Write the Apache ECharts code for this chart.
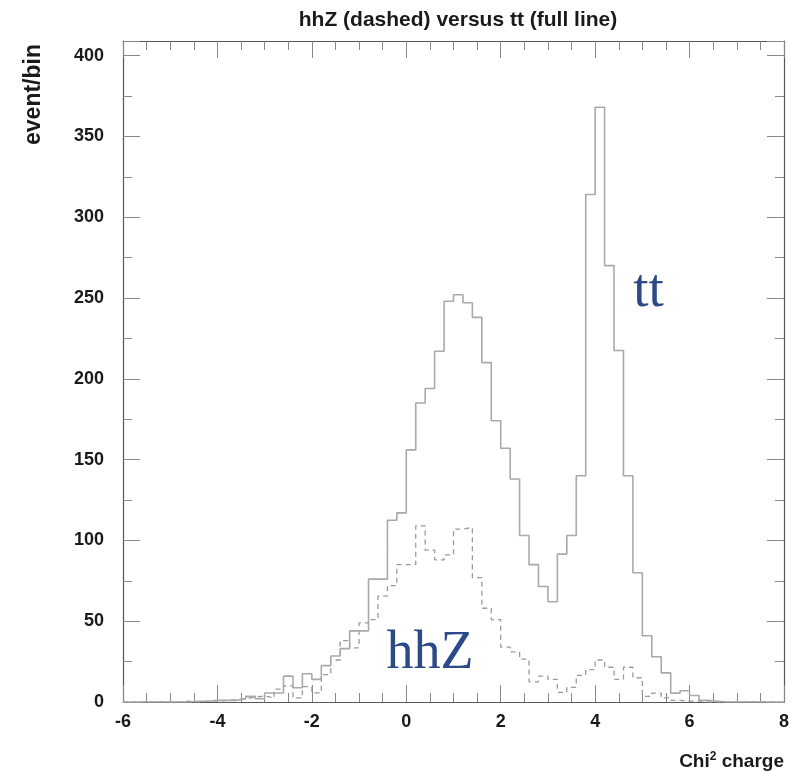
<!DOCTYPE html>
<html><head><meta charset="utf-8">
<script src="https://cdn.jsdelivr.net/npm/echarts@6/dist/echarts.min.js"></script>
<style>html,body{margin:0;padding:0;background:#fff}#c{width:803px;height:772px}</style>
</head><body><div id="c"></div>
<script>
// Histogram binning
const binStart = -6;
const binWidth = 0.2;
// tt (full line) counts per bin, from -6 to 8
const ttCounts = [
  0, 0, 0, 0, 0, 0, 0, 0.5, 0.5, 1,
  1, 1, 2, 3.5, 2, 5.6, 5.6, 16, 8.8, 17.5,
  14, 22.5, 28.5, 33, 44, 44, 76, 76, 112.5, 117,
  156, 185, 194, 217, 248, 252, 247, 238, 210, 174,
  157, 138, 103, 85, 71.5, 62, 91.5, 103, 140, 314,
  368, 270, 217.5, 140, 80, 41, 28, 18, 5.5, 7,
  4, 1, 0.5, 0, 0, 0, 0, 0, 0, 0
];
// hhZ (dashed) counts per bin
const hhzCounts = [
  0, 0, 0, 0, 0, 0, 0.5, 0, 0.5, 0.5,
  1, 1.5, 2, 3, 3.7, 2.5, 8, 10, 2.5, 9.5,
  5.6, 17, 26, 38, 33.5, 49, 51, 65.5, 72, 85,
  85, 109, 94, 88, 91, 107, 108, 77, 58, 51,
  34, 31, 26.5, 12.5, 16, 14, 6, 9, 16.5, 20,
  26, 21.5, 14, 21.5, 15, 3.5, 5.5, 2.5, 1, 0.5,
  0.5, 0, 0, 0, 0, 0, 0, 0, 0, 0
];
// axis settings
const xMin = -6, xMax = 8, xStep = 2;
const yMin = 0, yMax = 409, yStep = 50;
const titleText = 'hhZ (dashed) versus tt (full line)';
const yName = 'event/bin';
// annotation anchors (data coordinates)
const ttLabel = {text: 'tt', at: [5.13, 254]};
const hhzLabel = {text: 'hhZ', at: [0.5, 30]};

function toSteps(counts) {
  const pts = counts.map((v, i) => [+(binStart + i * binWidth).toFixed(3), v]);
  pts.push([+(binStart + counts.length * binWidth).toFixed(3), counts[counts.length - 1]]);
  return pts;
}

const font = '"Liberation Sans", Arial, sans-serif';
const frameColor = '#555';
const tickColor = '#888';

function xAx(pos, showLabels) {
  return {
    type: 'value', position: pos, min: xMin, max: xMax, interval: xStep,
    axisLine: {show: true, onZero: false, lineStyle: {color: frameColor, width: 1.2}},
    axisTick: {show: true, inside: true, length: 17, lineStyle: {color: tickColor, width: 1}},
    minorTick: {show: true, splitNumber: 4, length: 9, lineStyle: {color: tickColor, width: 1}},
    splitLine: {show: false}, minorSplitLine: {show: false},
    axisLabel: {show: showLabels, margin: 11, fontFamily: font, fontWeight: 'bold', fontSize: 18, color: '#1a1a1a'}
  };
}
function yAx(pos, showLabels) {
  return {
    type: 'value', position: pos, min: yMin, max: yMax, interval: yStep,
    axisLine: {show: true, onZero: false, lineStyle: {color: frameColor, width: 1.2}},
    axisTick: {show: true, inside: true, length: 17, lineStyle: {color: tickColor, width: 1}},
    minorTick: {show: true, splitNumber: 2, length: 9, lineStyle: {color: tickColor, width: 1}},
    splitLine: {show: false}, minorSplitLine: {show: false},
    axisLabel: {show: showLabels, showMaxLabel: false, margin: 19, fontFamily: font, fontWeight: 'bold', fontSize: 18, color: '#1a1a1a'}
  };
}

const chart = echarts.init(document.getElementById('c'), null, {renderer: 'canvas'});
chart.setOption({
  animation: false,
  backgroundColor: '#fff',
  title: {text: titleText, left: 453, top: 5, textAlign: 'center',
    textStyle: {fontFamily: font, fontWeight: 'bold', fontSize: 21, color: '#1a1a1a'}},
  grid: {left: 123, right: 19, top: 41, bottom: 70, containLabel: false, outerBoundsMode: 'none'},
  xAxis: [xAx('bottom', true), xAx('top', false)],
  yAxis: [yAx('left', true), yAx('right', false)],
  series: [
    {type: 'line', name: 'tt', step: 'end', data: toSteps(ttCounts), showSymbol: false, symbol: 'none',
      xAxisIndex: 0, yAxisIndex: 0,
      lineStyle: {color: '#a9a9a9', width: 1.6}, z: 3},
    {type: 'line', name: 'hhZ', step: 'end', data: toSteps(hhzCounts), showSymbol: false, symbol: 'none',
      xAxisIndex: 0, yAxisIndex: 0,
      lineStyle: {color: '#9a9a9a', width: 1.3, type: [5, 4]}, z: 2}
  ]
});

const pTt = chart.convertToPixel({xAxisIndex: 0, yAxisIndex: 0}, ttLabel.at);
const pHhz = chart.convertToPixel({xAxisIndex: 0, yAxisIndex: 0}, hhzLabel.at);
chart.setOption({
  graphic: [
    {type: 'text', x: pTt[0], y: pTt[1], style: {text: ttLabel.text, fontFamily: 'Liberation Serif', fontSize: 55,
      fill: '#2c4a87', align: 'center', verticalAlign: 'middle'}},
    {type: 'text', x: pHhz[0], y: pHhz[1], style: {text: hhzLabel.text, fontFamily: 'Liberation Serif', fontSize: 54,
      fill: '#2c4a87', align: 'center', verticalAlign: 'middle'}},
    {type: 'text', x: 34, y: 44, rotation: Math.PI / 2, style: {text: yName, fontFamily: font, fontWeight: 'bold',
      fontSize: 23, fill: '#1a1a1a', align: 'right', verticalAlign: 'middle'}},
    {type: 'text', right: 19, bottom: 1, style: {text: '{a|Chi}{s|2}{a| charge}',
      rich: {a: {fontFamily: font, fontWeight: 'bold', fontSize: 19, fill: '#1a1a1a', color: '#1a1a1a'},
             s: {fontFamily: font, fontWeight: 'bold', fontSize: 12, fill: '#1a1a1a', color: '#1a1a1a', verticalAlign: 'top', padding: [0,0,10,0]}}}}
  ]
});
</script></body></html>
